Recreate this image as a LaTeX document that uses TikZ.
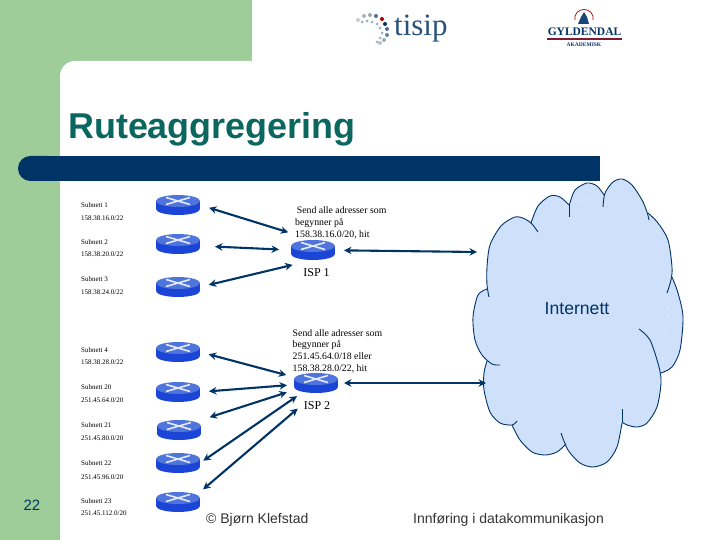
\documentclass[tikz,border=0pt]{standalone}
\usepackage{fontspec}
\setmainfont{Liberation Serif}
\setsansfont{Liberation Sans}
\usetikzlibrary{arrows.meta}
\definecolor{sidegreen}{HTML}{9FCD9A}
\definecolor{navybar}{HTML}{003366}
\definecolor{titleteal}{HTML}{0B6660}
\definecolor{cloudblue}{HTML}{CFE0FB}
\definecolor{routertop}{HTML}{4F74DC}
\definecolor{routerside}{HTML}{1B45D6}
\definecolor{footgrey}{HTML}{333333}
\tikzset{
  x=1pt,y=-1pt,
  routerbox/.style={rectangle,minimum width=44pt,minimum height=20pt,inner sep=0pt,outer sep=0pt},
  biarrow/.style={draw=navybar,line width=2.1pt,{Stealth[length=7.5pt,width=7.5pt]}-{Stealth[length=7.5pt,width=7.5pt]}},
  subnet/.style={anchor=west,inner sep=0pt,font=\fontsize{7}{8}\selectfont,text=black},
  note/.style={anchor=north west,align=left,inner sep=0pt,font=\fontsize{9.8}{11.8}\selectfont,text=black},
  isp/.style={inner sep=0pt,font=\fontsize{12}{14}\selectfont,text=black},
  foot/.style={inner sep=0pt,font=\sffamily\fontsize{14}{16}\selectfont,text=footgrey},
  cloudfill/.style={fill=cloudblue},
  cloudline/.style={draw=navybar,line width=0.9pt},
}
\newcommand{\routerat}[3]{%
  \node[routerbox] (#1) at (#2,#3) {};
  \begin{scope}[shift={(#2,#3)}]
    \fill[routerside] (-22,-4) rectangle (22,4);
    \fill[routerside] (0,4) ellipse[x radius=22,y radius=6];
    \fill[routertop] (0,-4) ellipse[x radius=22,y radius=6];
    \draw[white,opacity=0.85,line width=1.6pt] (-12,-7.5) -- (12,-0.5) (-12,-0.5) -- (12,-7.5);
  \end{scope}
}
\newcommand{\cloudpaths}[1]{%
  \path[#1] plot[smooth] coordinates {(489,297)(487,285)(487,267)(490,245)(501,226)(515,217)(525,219)(532,224)(538,232)};
  \path[#1] plot[smooth] coordinates {(531,223)(538,206)(550,196)(560,197)(569,205)};
  \path[#1] (569,203) -- (569,217);
  \path[#1] plot[smooth] coordinates {(570,203)(575,190)(587,183)(597,186)(604,195)};
  \path[#1] plot[smooth] coordinates {(603,207)(605,193)(613,182)(622,179)(632,185)(642,200)(647,212)(649,220)};
  \path[#1] plot[smooth] coordinates {(648,213)(658,223)(668,240)(672,267)(671,280)(667,293)};
  \path[#1] plot[smooth] coordinates {(672,277)(678,293)(683,317)(680,350)(672,367)(661,373)};
  \path[#1] plot[smooth] coordinates {(639,329)(650,340)(659,367)(661,383)(657,407)(647,423)(637,427)(627,425)(622,422)};
  \path[#1] (622,423) -- (622,409);
  \path[#1] plot[smooth] coordinates {(622,423)(617,447)(607,462)(593,467)(580,463)(568,450)(561,433)};
  \path[#1] plot[smooth] coordinates {(566,444)(557,452)(545,455)(532,452)(520,440)(512,425)};
  \path[#1] plot[smooth] coordinates {(517,421)(512,425)(500,423)(490,412)(484,390)(484,373)(487,361)};
  \path[#1] plot[smooth] coordinates {(500,365)(492,364)(482,355)(475,340)(473,317)(478,295)(487,289)};
}
\begin{document}
\begin{tikzpicture}
\useasboundingbox (0,0) rectangle (720,540);
% slide background
\fill[white] (0,0) rectangle (720,540);
\fill[sidegreen] (0,0) rectangle (252,80);
\fill[sidegreen] (0,0) rectangle (60,540);
\fill[white] (60,540) [rounded corners=15pt] -- (60,61) [sharp corners] -- (720,61) -- (720,540) -- cycle;
\fill[navybar,rounded corners=12.4pt] (60,156) -- (18,156) -- (18,181) -- (60,181) -- cycle;
\fill[navybar] (40,156) rectangle (600,181);
\node[anchor=base west,inner sep=0pt,font=\sffamily\bfseries\fontsize{35.9}{40}\selectfont,text=titleteal] (title) at (68,139) {Ruteaggregering};
% tisip logo
\foreach \px/\py/\col in {358/20/gray!40,364/16/gray!60,370/15/gray!70,376/16/navybar!70,382/19/red!65!black,385/24/navybar,387/29/navybar!70,387/35/navybar!60,384/40/navybar!40,380/43/gray!50}
  \fill[\col] (\px,\py) circle[radius=2];
\foreach \px/\py in {362/22,367/21,372/22,377/24,380/28,382/33,380/38,377/42}
  \fill[navybar!40] (\px,\py) circle[radius=1.5];
\node[anchor=base west,inner sep=0pt,font=\fontsize{31}{34}\selectfont,text=navybar!85] (tisip) at (394,36) {tisip};
% Gyldendal logo
\draw[red!60!black,line width=0.7pt] (575,20) .. controls (573,6) and (595,6) .. (593,20);
\fill[navybar!90] (584,12) -- (587,17) -- (589,24) -- (578,24) -- (581,17) -- cycle;
\node[anchor=base,inner sep=0pt,font=\bfseries\fontsize{11.5}{12}\selectfont,text=navybar] (gyl) at (584.5,36) {GYLDENDAL};
\fill[red!50!navybar] (547,38) rectangle (622,40);
\node[anchor=base,inner sep=0pt,font=\bfseries\fontsize{5.5}{6}\selectfont,text=navybar] (aka) at (584,47) {AKADEMISK};
% cloud
\fill[cloudblue] (487,289) -- (487,267) -- (531,223) -- (570,203) -- (604,195) -- (647,213) -- (672,277) -- (661,373) -- (622,422) -- (566,444) -- (512,425) -- (487,361) -- cycle;
\cloudpaths{cloudfill}
\cloudpaths{cloudline}
\node[inner sep=0pt,font=\sffamily\fontsize{17.6}{19}\selectfont,text=navybar] (inet) at (577,309) {Internett};
\coordinate (cloudA) at (477,252);
\coordinate (cloudB) at (486,383);
% routers
\routerat{r1}{178}{205}
\routerat{r2}{178}{244}
\routerat{r3}{178}{287}
\routerat{r4}{178}{352}
\routerat{r5}{178}{392}
\routerat{r6}{179}{430}
\routerat{r7}{178}{463}
\routerat{r8}{178}{502}
\routerat{isp1r}{313}{250}
\routerat{isp2r}{316}{383}
% connectors
\draw[biarrow,shorten <=9.5pt,shorten >=26pt] (r1.east) -- (isp1r.north);
\draw[biarrow,shorten <=15pt,shorten >=12pt] (r2.-5) -- (isp1r.west);
\draw[biarrow,shorten <=9pt,shorten >=21pt] (r3.east) -- (isp1r.south);
\draw[biarrow,shorten <=9pt,shorten >=8pt] (r4.east) -- (isp2r);
\draw[biarrow,shorten <=9pt,shorten >=7pt] (r5.east) -- (isp2r);
\draw[biarrow,shorten <=9pt,shorten >=7.5pt] (r6.north east) -- (isp2r);
\draw[biarrow,shorten <=4pt,shorten >=5.5pt] (r7.east) -- (isp2r);
\draw[biarrow,shorten <=4pt,shorten >=24pt] (r8.north east) -- (isp2r.south);
\draw[biarrow,shorten <=9pt] (isp1r) -- (cloudA);
\draw[biarrow,shorten <=6pt] (isp2r) -- (cloudB);
% subnet labels
\node[subnet] (s1) at (81,205) {Subnett 1};
\node[subnet] (n1) at (81,218) {158.38.16.0/22};
\node[subnet] (s2) at (81,242) {Subnett 2};
\node[subnet] (n2) at (81,254) {158.38.20.0/22};
\node[subnet] (s3) at (81,279) {Subnett 3};
\node[subnet] (n3) at (81,292) {158.38.24.0/22};
\node[subnet] (s4) at (81,350) {Subnett 4};
\node[subnet] (n4) at (81,362) {158.38.28.0/22};
\node[subnet] (s5) at (81,387) {Subnett 20};
\node[subnet] (n5) at (81,400) {251.45.64.0/20};
\node[subnet] (s6) at (81,425) {Subnett 21};
\node[subnet] (n6) at (81,438) {251.45.80.0/20};
\node[subnet] (s7) at (81,463) {Subnett 22};
\node[subnet] (n7) at (81,477) {251.45.96.0/20};
\node[subnet] (s8) at (81,501) {Subnett 23};
\node[subnet] (n8) at (81,513) {251.45.112.0/20};
% notes
\node[note] (note1) at (295,206.5) {\,Send alle adresser som\\begynner på\\158.38.16.0/20, hit};
\node[note] (note2) at (292.5,329) {Send alle adresser som\\begynner på\\251.45.64.0/18 eller\\158.38.28.0/22, hit};
\node[isp] (l1) at (316.5,273) {ISP 1};
\node[isp] (l2) at (317,406) {ISP 2};
% footer
\node[inner sep=0pt,font=\sffamily\fontsize{15}{16}\selectfont,text=navybar] (page) at (32,505) {22};
\node[foot,anchor=base west] (auth) at (206,523) {© Bjørn Klefstad};
\node[foot,anchor=base west] (course) at (413,523) {Innføring i datakommunikasjon};
\end{tikzpicture}
\end{document}
